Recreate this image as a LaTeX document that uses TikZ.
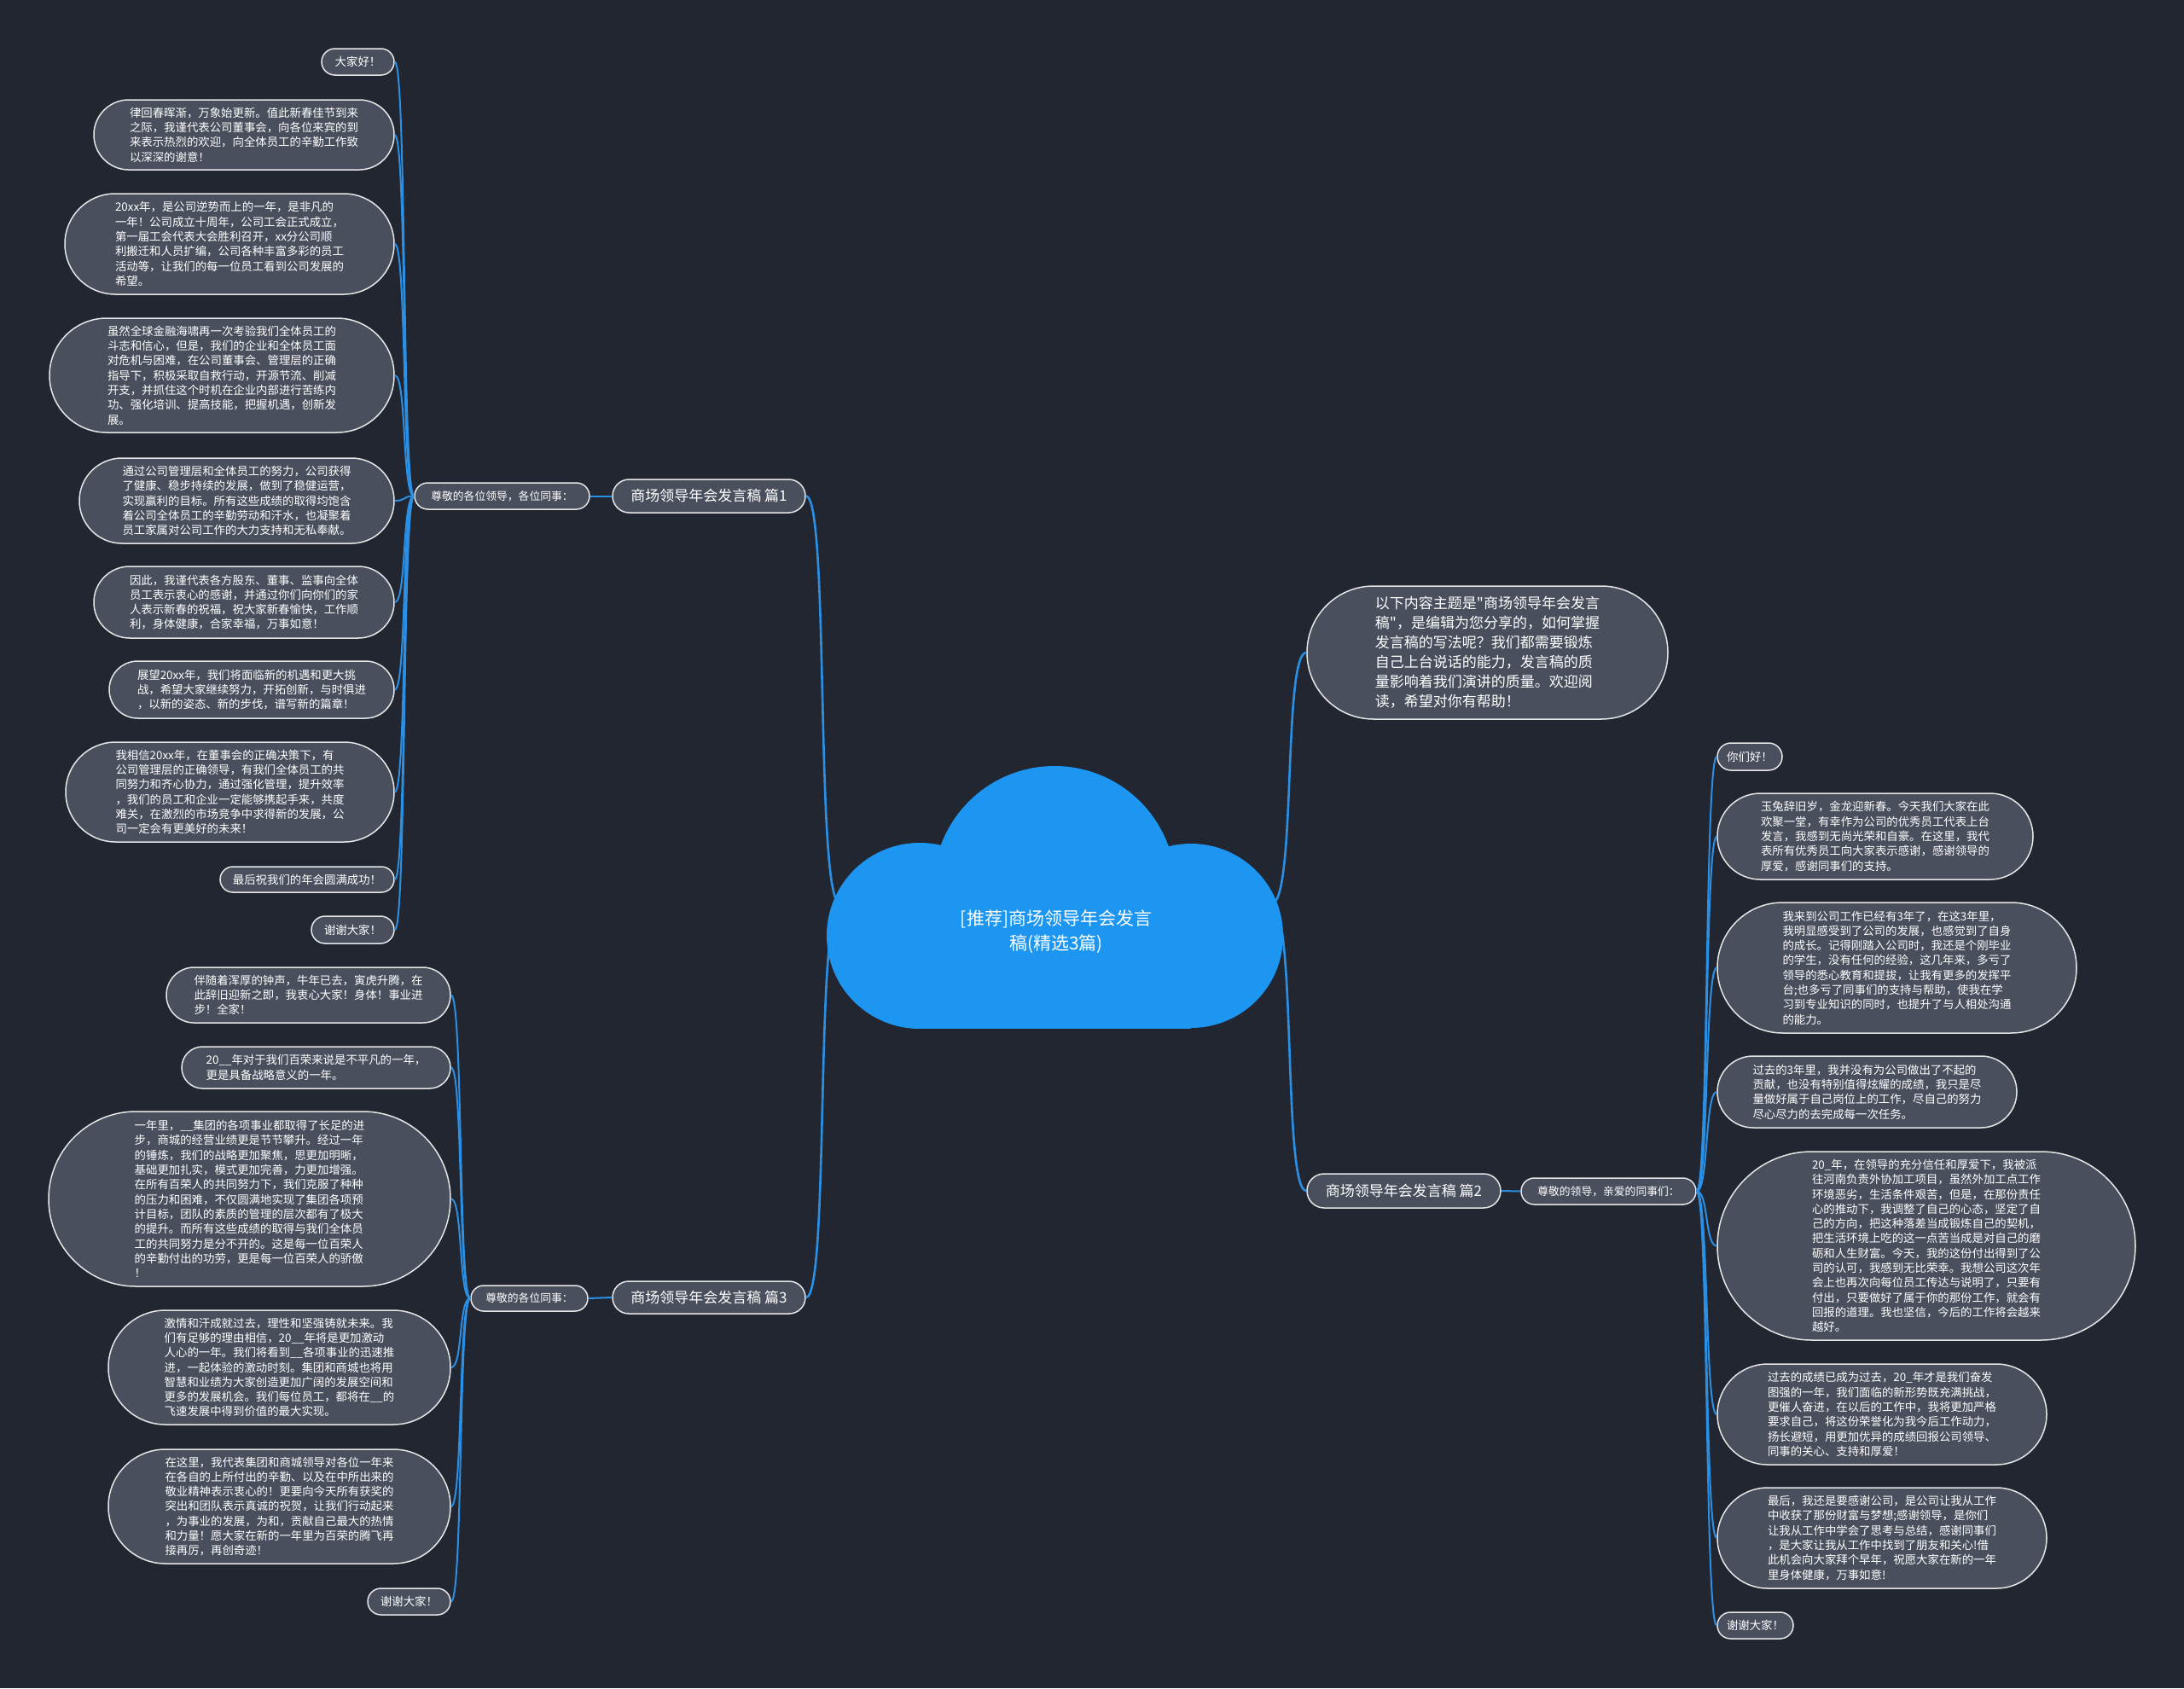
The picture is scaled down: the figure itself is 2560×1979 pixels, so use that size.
\documentclass[tikz,border=0pt]{standalone}
\usepackage{fontspec}
\setmainfont{Noto Sans CJK SC}[Ligatures=TeXOff]
\definecolor{bgc}{HTML}{222631}
\definecolor{nodec}{HTML}{4A4F5E}
\definecolor{bordc}{HTML}{E6E6E6}
\definecolor{linkc}{HTML}{2B8FE3}
\definecolor{cloudc}{HTML}{1C96F0}
\tikzset{
  leafst/.style={draw=bordc, fill=nodec, line width=1.5pt, text=white, align=left, inner sep=1pt,
    font=\fontsize{13.4}{17.3}\selectfont},
  introst/.style={leafst, font=\fontsize{17}{23}\selectfont},
  subst/.style={leafst, font=\fontsize{12.8}{15}\selectfont},
  brst/.style={leafst, font=\fontsize{17}{20}\selectfont},
  lk/.style={draw=linkc, line width=2pt},
  mainlk/.style={draw=linkc, line width=2.6pt},
}
\newcommand\boxnode[7]{\node[#1, minimum width={#5-#3}, minimum height={#6-#4}, rounded corners={(#6-#4)/2}] (#2) at ({(#3+#5)/2},{(#4+#6)/2}) {#7};}
\newcommand\lkL[2]{\draw[lk] (#1.west) .. controls +(-14,0) and +(14,0) .. (#2.east);}
\newcommand\lkR[2]{\draw[lk] (#1.east) .. controls +(14,0) and +(-14,0) .. (#2.west);}
\begin{document}
\begin{tikzpicture}[x=1pt,y=-1pt]
\fill[bgc] (0,0) rectangle (2560,1979);
\useasboundingbox (0,0) rectangle (2560,1979);

% branches and sub nodes
\boxnode{brst}{b1}{718}{562}{944}{601}{商场领导年会发言稿 篇1}
\boxnode{subst}{s1}{486}{566}{691}{597}{尊敬的各位领导，各位同事：}
\boxnode{brst}{b3}{718}{1502}{944}{1540}{商场领导年会发言稿 篇3}
\boxnode{subst}{s3}{552}{1507}{689}{1537}{尊敬的各位同事：}
\boxnode{brst}{b2}{1532}{1376}{1759}{1416}{商场领导年会发言稿 篇2}
\boxnode{subst}{s2}{1783}{1381}{1988}{1412}{尊敬的领导，亲爱的同事们：}
\boxnode{introst}{intro}{1532}{687}{1955}{843}{以下内容主题是"商场领导年会发言\\稿"，是编辑为您分享的，如何掌握\\发言稿的写法呢？我们都需要锻炼\\自己上台说话的能力，发言稿的质\\量影响着我们演讲的质量。欢迎阅\\读，希望对你有帮助！}

% leaves of part 1
\boxnode{leafst}{l1}{377}{57}{462}{88}{大家好！}
\boxnode{leafst}{l2}{110}{117}{462}{199}{律回春晖渐，万象始更新。值此新春佳节到来\\之际，我谨代表公司董事会，向各位来宾的到\\来表示热烈的欢迎，向全体员工的辛勤工作致\\以深深的谢意！}
\boxnode{leafst}{l3}{76}{227}{462}{345}{20xx年，是公司逆势而上的一年，是非凡的\\一年！公司成立十周年，公司工会正式成立，\\第一届工会代表大会胜利召开，xx分公司顺\\利搬迁和人员扩编，公司各种丰富多彩的员工\\活动等，让我们的每一位员工看到公司发展的\\希望。}
\boxnode{leafst}{l4}{58}{373}{462}{507}{虽然全球金融海啸再一次考验我们全体员工的\\斗志和信心，但是，我们的企业和全体员工面\\对危机与困难，在公司董事会、管理层的正确\\指导下，积极采取自救行动，开源节流、削减\\开支，并抓住这个时机在企业内部进行苦练内\\功、强化培训、提高技能，把握机遇，创新发\\展。}
\boxnode{leafst}{l5}{93}{537}{462}{637}{通过公司管理层和全体员工的努力，公司获得\\了健康、稳步持续的发展，做到了稳健运营，\\实现赢利的目标。所有这些成绩的取得均饱含\\着公司全体员工的辛勤劳动和汗水，也凝聚着\\员工家属对公司工作的大力支持和无私奉献。}
\boxnode{leafst}{l6}{110}{664}{462}{748}{因此，我谨代表各方股东、董事、监事向全体\\员工表示衷心的感谢，并通过你们向你们的家\\人表示新春的祝福，祝大家新春愉快，工作顺\\利，身体健康，合家幸福，万事如意！}
\boxnode{leafst}{l7}{128}{775}{462}{842}{展望20xx年，我们将面临新的机遇和更大挑\\战，希望大家继续努力，开拓创新，与时俱进\\，以新的姿态、新的步伐，谱写新的篇章！}
\boxnode{leafst}{l8}{77}{870}{462}{987}{我相信20xx年，在董事会的正确决策下，有\\公司管理层的正确领导，有我们全体员工的共\\同努力和齐心协力，通过强化管理，提升效率\\，我们的员工和企业一定能够携起手来，共度\\难关，在激烈的市场竞争中求得新的发展，公\\司一定会有更美好的未来！}
\boxnode{leafst}{l9}{258}{1016}{462}{1046}{最后祝我们的年会圆满成功！}
\boxnode{leafst}{l10}{365}{1074}{462}{1106}{谢谢大家！}

% leaves of part 3
\boxnode{leafst}{m1}{195}{1134}{528}{1199}{伴随着浑厚的钟声，牛年已去，寅虎升腾，在\\此辞旧迎新之即，我衷心大家！身体！事业进\\步！全家！}
\boxnode{leafst}{m2}{213}{1227}{528}{1276}{20\_\_年对于我们百荣来说是不平凡的一年，\\更是具备战略意义的一年。}
\boxnode{leafst}{m3}{57}{1303}{528}{1508}{一年里，\_\_集团的各项事业都取得了长足的进\\步，商城的经营业绩更是节节攀升。经过一年\\的锤炼，我们的战略更加聚焦，思更加明晰，\\基础更加扎实，模式更加完善，力更加增强。\\在所有百荣人的共同努力下，我们克服了种种\\的压力和困难，不仅圆满地实现了集团各项预\\计目标，团队的素质的管理的层次都有了极大\\的提升。而所有这些成绩的取得与我们全体员\\工的共同努力是分不开的。这是每一位百荣人\\的辛勤付出的功劳，更是每一位百荣人的骄傲\\！}
\boxnode{leafst}{m4}{127}{1536}{528}{1670}{激情和汗成就过去，理性和坚强铸就未来。我\\们有足够的理由相信，20\_\_年将是更加激动\\人心的一年。我们将看到\_\_各项事业的迅速推\\进，一起体验的激动时刻。集团和商城也将用\\智慧和业绩为大家创造更加广阔的发展空间和\\更多的发展机会。我们每位员工，都将在\_\_的\\飞速发展中得到价值的最大实现。}
\boxnode{leafst}{m5}{127}{1699}{528}{1833}{在这里，我代表集团和商城领导对各位一年来\\在各自的上所付出的辛勤、以及在中所出来的\\敬业精神表示衷心的！更要向今天所有获奖的\\突出和团队表示真诚的祝贺，让我们行动起来\\，为事业的发展，为和，贡献自己最大的热情\\和力量！愿大家在新的一年里为百荣的腾飞再\\接再厉，再创奇迹！}
\boxnode{leafst}{m6}{431}{1862}{528}{1893}{谢谢大家！}

% leaves of part 2
\boxnode{leafst}{r1}{2013}{871}{2089}{903}{你们好！}
\boxnode{leafst}{r2}{2013}{930}{2383}{1031}{玉兔辞旧岁，金龙迎新春。今天我们大家在此\\欢聚一堂，有幸作为公司的优秀员工代表上台\\发言，我感到无尚光荣和自豪。在这里，我代\\表所有优秀员工向大家表示感谢，感谢领导的\\厚爱，感谢同事们的支持。}
\boxnode{leafst}{r3}{2013}{1058}{2434}{1211}{我来到公司工作已经有3年了，在这3年里，\\我明显感受到了公司的发展，也感觉到了自身\\的成长。记得刚踏入公司时，我还是个刚毕业\\的学生，没有任何的经验，这几年来，多亏了\\领导的悉心教育和提拔，让我有更多的发挥平\\台;也多亏了同事们的支持与帮助，使我在学\\习到专业知识的同时，也提升了与人相处沟通\\的能力。}
\boxnode{leafst}{r4}{2013}{1238}{2364}{1322}{过去的3年里，我并没有为公司做出了不起的\\贡献，也没有特别值得炫耀的成绩，我只是尽\\量做好属于自己岗位上的工作，尽自己的努力\\尽心尽力的去完成每一次任务。}
\boxnode{leafst}{r5}{2013}{1350}{2503}{1571}{20\_年，在领导的充分信任和厚爱下，我被派\\往河南负责外协加工项目，虽然外加工点工作\\环境恶劣，生活条件艰苦，但是，在那份责任\\心的推动下，我调整了自己的心态，坚定了自\\己的方向，把这种落差当成锻炼自己的契机，\\把生活环境上吃的这一点苦当成是对自己的磨\\砺和人生财富。今天，我的这份付出得到了公\\司的认可，我感到无比荣幸。我想公司这次年\\会上也再次向每位员工传达与说明了，只要有\\付出，只要做好了属于你的那份工作，就会有\\回报的道理。我也坚信，今后的工作将会越来\\越好。}
\boxnode{leafst}{r6}{2013}{1599}{2399}{1717}{过去的成绩已成为过去，20\_年才是我们奋发\\图强的一年，我们面临的新形势既充满挑战，\\更催人奋进，在以后的工作中，我将更加严格\\要求自己，将这份荣誉化为我今后工作动力，\\扬长避短，用更加优异的成绩回报公司领导、\\同事的关心、支持和厚爱！}
\boxnode{leafst}{r7}{2013}{1744}{2399}{1862}{最后，我还是要感谢公司，是公司让我从工作\\中收获了那份财富与梦想;感谢领导，是你们\\让我从工作中学会了思考与总结，感谢同事们\\，是大家让我从工作中找到了朋友和关心!借\\此机会向大家拜个早年，祝愿大家在新的一年\\里身体健康，万事如意!}
\boxnode{leafst}{r8}{2013}{1890}{2102}{1921}{谢谢大家！}

% connectors
\foreach \n in {l1,l2,l3,l4,l5,l6,l7,l8,l9,l10} {\lkL{s1}{\n}}
\foreach \n in {m1,m2,m3,m4,m5,m6} {\lkL{s3}{\n}}
\foreach \n in {r1,r2,r3,r4,r5,r6,r7,r8} {\lkR{s2}{\n}}
\draw[lk] (b1.west) -- (s1.east);
\draw[lk] (b3.west) -- (s3.east);
\draw[lk] (b2.east) -- (s2.west);

\coordinate (cl) at (985,1060);
\coordinate (cr) at (1490,1060);
\draw[mainlk] (cl) .. controls +(-30,0) and +(28,0) .. (b1.east);
\draw[mainlk] (cl) .. controls +(-30,0) and +(28,0) .. (b3.east);
\draw[mainlk] (cr) .. controls +(30,0) and +(-28,0) .. (intro.west);
\draw[mainlk] (cr) .. controls +(30,0) and +(-28,0) .. (b2.west);

% cloud
\fill[cloudc] (1236,1040) circle[radius=142];
\fill[cloudc] (1078,1097) circle[radius=109];
\fill[cloudc] (1396,1097) circle[radius=108];
\fill[cloudc] (1078,1040) rectangle (1396,1206);
\node[text=white, align=center, font=\fontsize{21}{29}\selectfont] (center) at (1238,1092) {[推荐]商场领导年会发言\\稿(精选3篇)};
\end{tikzpicture}
\end{document}
